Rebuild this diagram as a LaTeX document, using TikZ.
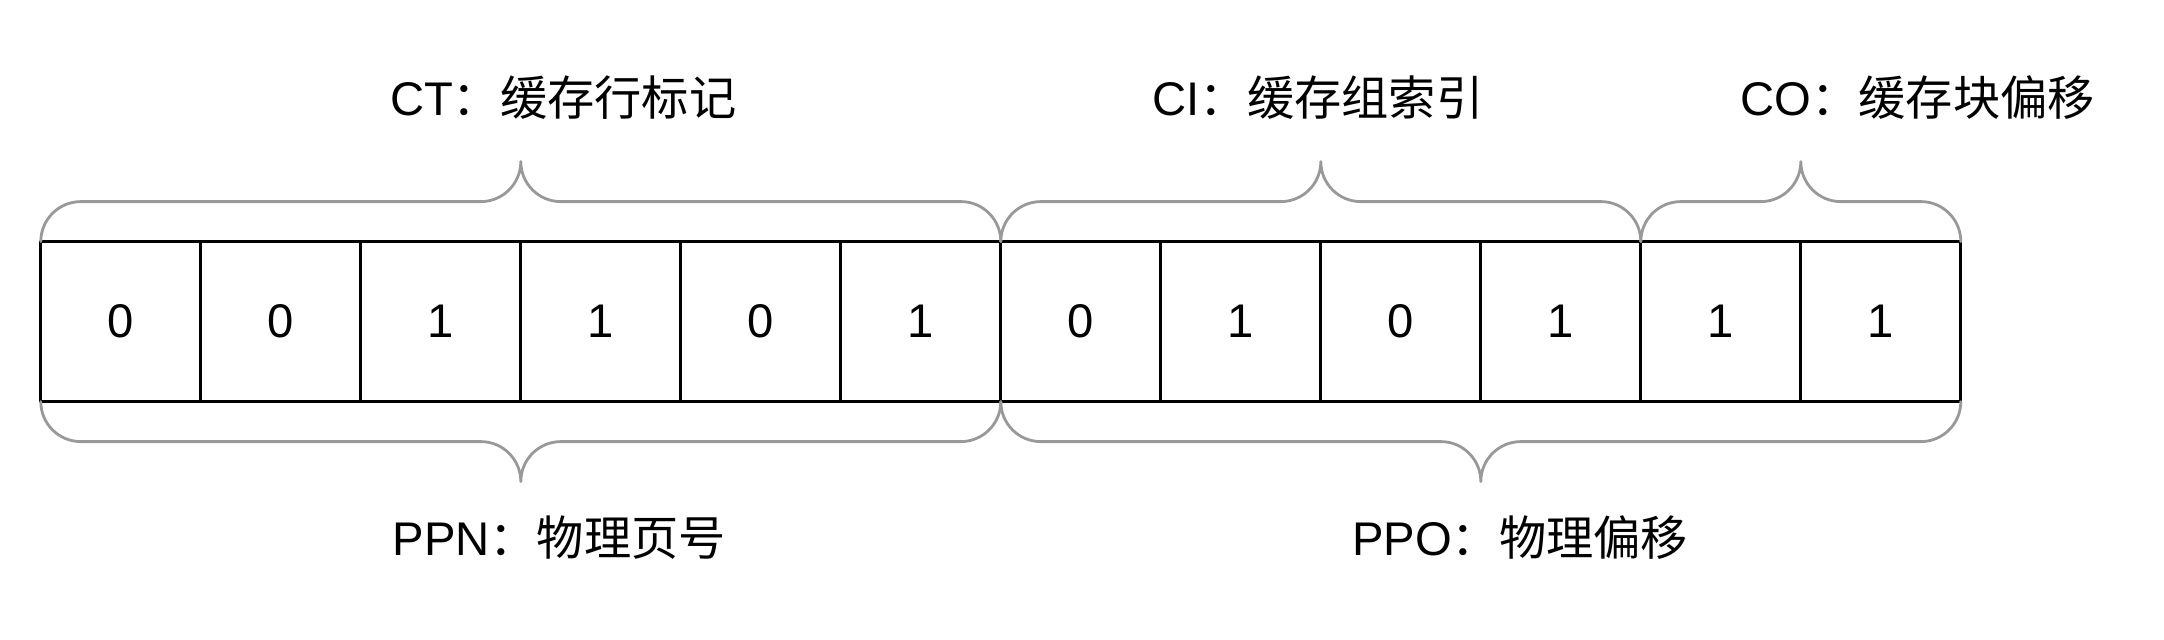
\documentclass[tikz,border=0pt]{standalone}
\usepackage{fontspec}
\setmainfont{Liberation Sans}
\newfontfamily\cjk{Noto Sans CJK SC}
\definecolor{bracegray}{HTML}{999999}
\tikzset{
  bit/.style={draw=black,line width=1.15pt,minimum size=2cm,inner sep=0pt,outer sep=0pt,font=\fontsize{16.8}{20}\selectfont},
  brace/.style={draw=bracegray,line width=1pt},
  field/.style={anchor=base,inner sep=0pt,font=\fontsize{16.8}{20}\selectfont}
}

\begin{document}
\begin{tikzpicture}[line cap=round,line join=round,x=1cm,y=1cm]
                \useasboundingbox (0,0) rectangle (27.05,-8);
                \node[bit] (b1) at (1.51,-4.02) {0};
                \node[bit] (b2) at (3.51,-4.02) {0};
                \node[bit] (b3) at (5.51,-4.02) {1};
                \node[bit] (b4) at (7.51,-4.02) {1};
                \node[bit] (b5) at (9.51,-4.02) {0};
                \node[bit] (b6) at (11.51,-4.02) {1};
                \node[bit] (b7) at (13.51,-4.02) {0};
                \node[bit] (b8) at (15.51,-4.02) {1};
                \node[bit] (b9) at (17.51,-4.02) {0};
                \node[bit] (b10) at (19.51,-4.02) {1};
                \node[bit] (b11) at (21.51,-4.02) {1};
                \node[bit] (b12) at (23.51,-4.02) {1};
                \draw [brace] (b1.north west) arc[start angle=180,end angle=90,radius=0.5] -- ++(5,0) arc[start angle=270,end angle=360,radius=0.5] arc[start angle=180,end angle=270,radius=0.5] -- ++(5,0) arc[start angle=90,end angle=0,radius=0.5];
                \draw [brace] (b7.north west) arc[start angle=180,end angle=90,radius=0.5] -- ++(3,0) arc[start angle=270,end angle=360,radius=0.5] arc[start angle=180,end angle=270,radius=0.5] -- ++(3,0) arc[start angle=90,end angle=0,radius=0.5];
                \draw [brace] (b11.north west) arc[start angle=180,end angle=90,radius=0.5] -- ++(1,0) arc[start angle=270,end angle=360,radius=0.5] arc[start angle=180,end angle=270,radius=0.5] -- ++(1,0) arc[start angle=90,end angle=0,radius=0.5];
                \draw [brace] (b1.south west) arc[start angle=180,end angle=270,radius=0.5] -- ++(5,0) arc[start angle=90,end angle=0,radius=0.5] arc[start angle=180,end angle=90,radius=0.5] -- ++(5,0) arc[start angle=270,end angle=360,radius=0.5];
                \draw [brace] (b7.south west) arc[start angle=180,end angle=270,radius=0.5] -- ++(5,0) arc[start angle=90,end angle=0,radius=0.5] arc[start angle=180,end angle=90,radius=0.5] -- ++(5,0) arc[start angle=270,end angle=360,radius=0.5];
                \node[field] (ct) at (7.04,-1.44) {CT{\cjk ：缓存行标记}};
                \node[field] (ci) at (16.475,-1.44) {CI{\cjk ：缓存组索引}};
                \node[field] (co) at (23.97,-1.44) {CO{\cjk ：缓存块偏移}};
                \node[field] (ppn) at (6.99,-6.94) {PPN{\cjk ：物理页号}};
                \node[field] (ppo) at (19.0,-6.94) {PPO{\cjk ：物理偏移}};
\end{tikzpicture}
\end{document}
